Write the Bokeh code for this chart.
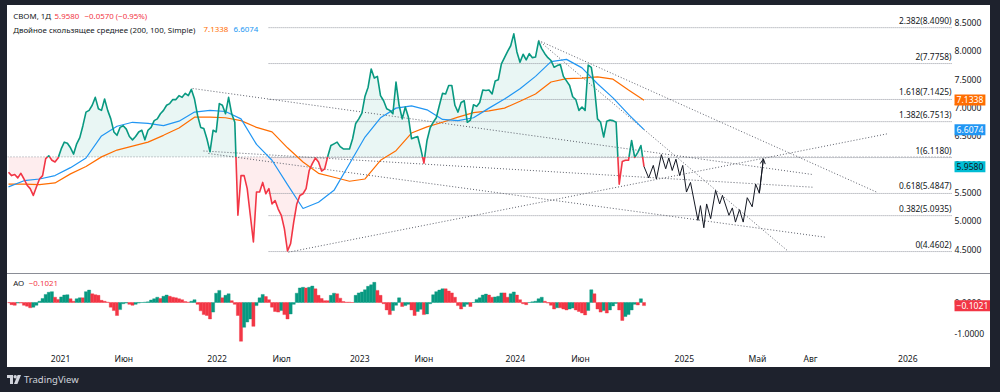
import numpy as np
from bokeh.plotting import figure
from bokeh.models import (Range1d, FixedTicker, NumeralTickFormatter, Label, Div, Arrow,
                          OpenHead, ColumnDataSource)
from bokeh.layouts import column, row
from bokeh.embed import file_html
from bokeh.resources import INLINE
from bokeh.core.properties import value

FONT = "Noto Sans"
TXT = "#131722"
GREEN = "#089981"
RED = "#f23645"
ORANGE = "#ff6d00"
BLUE = "#2196f3"
CYAN = "#00bcd4"
DARK = "#1e222d"

# ---------------- data (x = week index from the first bar) ----------------
weeks = list(range(206))
close = [5.86, 5.80, 5.82, 5.76, 5.84, 5.74, 5.63, 5.57, 5.45, 5.60,
         5.74, 5.80, 6.10, 6.15, 6.07, 6.04, 6.11, 6.27, 6.39, 6.37,
         6.29, 6.18, 6.36, 6.47, 6.68, 6.92, 6.95, 7.04, 7.18, 6.98,
         6.95, 7.15, 6.95, 6.80, 6.57, 6.51, 6.65, 6.68, 6.62, 6.49,
         6.43, 6.49, 6.57, 6.60, 6.43, 6.60, 6.65, 6.77, 6.80, 6.89,
         6.95, 7.04, 7.07, 7.14, 7.14, 7.21, 7.18, 7.25, 7.21, 7.32,
         7.15, 6.86, 6.65, 6.63, 6.45, 6.22, 6.60, 6.57, 7.07, 7.04,
         6.89, 7.18, 6.89, 6.74, 5.10, 5.80, 5.80, 5.57, 5.10, 4.63,
         5.51, 5.51, 5.68, 5.48, 5.57, 5.30, 5.36, 5.21, 5.10, 4.86,
         4.47, 4.60, 4.98, 5.30, 5.45, 5.48, 5.57, 5.89, 6.01, 6.11,
         6.04, 5.88, 5.92, 6.14, 6.33, 6.36, 6.39, 6.31, 6.27, 6.27,
         6.27, 6.45, 6.72, 6.80, 6.90, 7.20, 7.36, 7.68, 7.52, 7.55,
         7.21, 7.12, 6.98, 6.95, 6.89, 7.45, 7.04, 6.80, 7.01, 6.83,
         6.45, 6.47, 6.49, 6.27, 6.02, 6.42, 6.64, 6.74, 6.82, 7.04,
         7.25, 7.24, 7.39, 7.39, 7.04, 6.92, 7.09, 7.12, 6.74, 6.78,
         7.05, 7.02, 7.09, 7.31, 7.30, 7.31, 7.24, 7.47, 7.49, 7.77,
         7.88, 7.99, 8.09, 8.30, 7.98, 7.80, 7.94, 7.84, 7.95, 7.88,
         7.89, 8.17, 8.04, 7.95, 7.88, 7.83, 7.71, 7.74, 7.76, 7.55,
         7.47, 7.39, 7.19, 7.14, 6.95, 7.01, 6.95, 7.75, 7.71, 7.36,
         6.80, 6.74, 6.48, 6.76, 6.78, 6.77, 6.74, 5.65, 6.05, 6.07,
         6.07, 6.42, 6.12, 6.21, 6.33, 5.96]
base_level = 6.13

ma_weeks = list(range(0, 206, 5))
sma200 = [5.65, 5.65, 5.64, 5.67, 5.83, 5.96, 6.13, 6.25, 6.32, 6.39,
          6.51, 6.64, 6.83, 6.83, 6.82, 6.77, 6.65, 6.57, 6.29, 6.04,
          5.84, 5.77, 5.70, 5.74, 6.07, 6.24, 6.55, 6.66, 6.74, 6.83,
          6.91, 6.94, 6.99, 7.11, 7.24, 7.45, 7.51, 7.52, 7.54, 7.50,
          7.31, 7.13]
sma100 = [5.60, 5.71, 5.74, 5.80, 5.94, 6.11, 6.50, 6.67, 6.74, 6.72,
          6.68, 6.76, 6.92, 6.95, 6.93, 6.80, 6.35, 6.07, 5.64, 5.22,
          5.33, 5.54, 6.01, 6.48, 6.82, 6.99, 7.03, 6.96, 6.79, 6.77,
          6.82, 6.99, 7.15, 7.33, 7.55, 7.81, 7.85, 7.70, 7.42, 7.17,
          6.88, 6.61]

ao = [-0.01, -0.07, -0.09, -0.02, -0.02, -0.09, -0.12, -0.17, -0.15, -0.09,
      0.04, 0.13, 0.26, 0.33, 0.35, 0.17, 0.10, 0.18, 0.24, 0.25,
      0.12, 0.04, 0.12, 0.15, 0.15, 0.35, 0.40, 0.28, 0.25, 0.23,
      0.07, 0.04, 0.01, -0.15, -0.26, -0.42, -0.23, -0.04, -0.02, -0.06,
      -0.09, -0.06, -0.02, 0.00, 0.01, 0.02, 0.08, 0.12, 0.17, 0.13,
      0.20, 0.24, 0.20, 0.17, 0.15, 0.12, 0.09, 0.03, 0.01, 0.04,
      0.09, -0.06, -0.27, -0.39, -0.42, -0.53, -0.31, 0.30, 0.39, 0.15,
      0.23, 0.28, 0.06, -0.06, -0.42, -1.25, -0.80, -0.63, -0.53, -0.77,
      -0.10, 0.15, 0.26, 0.19, 0.09, -0.15, -0.29, -0.31, -0.26, -0.39,
      -0.53, -0.37, -0.06, 0.30, 0.47, 0.49, 0.47, 0.49, 0.53, 0.44,
      0.23, 0.13, 0.06, 0.06, 0.23, 0.30, 0.28, 0.14, 0.03, 0.01,
      0.01, 0.00, 0.23, 0.31, 0.34, 0.41, 0.52, 0.57, 0.65, 0.39,
      0.23, -0.04, -0.24, -0.39, -0.26, -0.09, 0.15, -0.13, -0.10, -0.06,
      -0.24, -0.42, -0.29, -0.22, -0.39, -0.37, -0.04, 0.25, 0.35, 0.40,
      0.44, 0.44, 0.37, 0.31, 0.17, -0.10, -0.21, -0.13, -0.06, -0.13,
      0.00, 0.10, 0.15, 0.24, 0.27, 0.24, 0.17, 0.18, 0.20, 0.31,
      0.31, 0.17, 0.28, 0.34, 0.24, 0.09, -0.04, -0.07, 0.00, 0.02,
      0.04, 0.12, 0.17, 0.04, -0.02, -0.09, -0.21, -0.17, -0.17, -0.21,
      -0.24, -0.21, -0.18, -0.24, -0.29, -0.34, -0.40, -0.26, 0.41, 0.28,
      -0.21, -0.31, -0.26, -0.34, -0.24, -0.11, -0.03, -0.24, -0.58, -0.45,
      -0.39, -0.24, -0.06, -0.08, 0.12, -0.10]

proj_weeks = [205.0, 206.5, 208.0, 209.0, 210.6, 212.0, 213.0, 214.1, 215.3, 216.5,
              217.5, 218.7, 220.0, 222.4, 223.2, 224.3, 225.2, 226.5, 228.1, 229.4,
              230.3, 232.4, 233.5, 234.5, 235.8, 237.0, 238.3, 239.9, 241.0, 242.2,
              243.5]
proj_price = [5.96, 5.76, 5.98, 5.74, 6.17, 5.92, 6.11, 5.89, 6.09, 5.80,
              5.98, 5.51, 5.68, 5.01, 5.27, 4.88, 5.30, 5.04, 5.54, 5.30,
              5.45, 5.10, 5.23, 4.98, 5.20, 4.98, 5.41, 5.25, 5.65, 5.49,
              6.095]

fib_ratio = [0, 0.382, 0.618, 1, 1.382, 1.618, 2, 2.382]
fib_price = [4.4602, 5.0935, 5.4847, 6.1180, 6.7513, 7.1425, 7.7758, 8.4090]
fib_start_week = 83.9

trend_w0 = [59.4, 62.9, 64.5, 90.3, 171.0, 171.0]
trend_p0 = [7.336, 6.234, 6.190, 4.449, 8.183, 8.183]
trend_w1 = [259.4, 259.4, 263.5, 283.5, 251.6, 280.3]
trend_p1 = [5.819, 5.595, 4.713, 6.537, 4.461, 5.502]

tick_weeks = [16.8, 37.2, 67.3, 88.1, 113.3, 134.0, 163.5, 184.5, 218.0, 241.6, 258.7, 290.1]
tick_labels = ["2021", "Июн", "2022", "Июл", "2023", "Июн", "2024", "Июн", "2025", "Май", "Авг", "2026"]

price_ticks = [4.5, 5.0, 5.5, 6.0, 6.5, 7.0, 7.5, 8.0, 8.5]
ao_ticks = [-1.0, 0.0]
last_close = 5.9580
last_sma200 = 7.1338
last_sma100 = 6.6074
last_ao = -0.1021

X_START = -0.323     # left edge of the pane
PANE_END = 304.52    # where the price pane ends / price scale begins
X_END = 316.77       # right edge of the white area
W = 983


def style_price_axis(ax, ticks):
    ax.ticker = FixedTicker(ticks=ticks)
    ax.formatter = NumeralTickFormatter(format="0.0000")
    ax.axis_line_color = None
    ax.major_tick_line_color = None
    ax.minor_tick_line_color = None
    ax.major_tick_out = 0
    ax.major_tick_in = 0
    ax.major_label_standoff = -36
    ax.major_label_text_font = FONT
    ax.major_label_text_font_size = "8.6px"
    ax.major_label_text_color = TXT


def lab(fig, x, y, text, color, size="7.9px"):
    fig.add_layout(Label(x=x, y=y, x_units="screen", y_units="data", text=text,
                         text_color=color, text_font=FONT, text_font_size=size,
                         text_baseline="middle", text_align="left"))


def marker(fig, y, text, bg, fg):
    fig.add_layout(Label(x=PANE_END, y=y, x_units="data", y_units="data", text=text,
                         x_offset=2, text_color=fg, text_font=FONT, text_font_size="8.6px",
                         text_baseline="middle", text_align="left",
                         background_fill_color=bg, padding=2))


# ---------------- main pane ----------------
p = figure(width=W, height=268, x_range=Range1d(X_START, X_END), y_range=Range1d(4.0732, 8.7998),
           x_axis_location=None, y_axis_location="right", toolbar_location=None,
           output_backend="svg", min_border_left=0, min_border_right=0,
           min_border_top=0, min_border_bottom=0, margin=0)
p.outline_line_color = None
p.grid.visible = False
p.border_fill_color = "white"
style_price_axis(p.yaxis[0], price_ticks)

# baseline split (crossing points so fills and colours meet on the base level)
xs, ys = [], []
for i, (w, c) in enumerate(zip(weeks, close)):
    if i > 0:
        a0 = close[i - 1] - base_level
        b0 = c - base_level
        if a0 * b0 < 0:
            t = a0 / (a0 - b0)
            xs.append(weeks[i - 1] + t * (w - weeks[i - 1]))
            ys.append(base_level)
    xs.append(w)
    ys.append(c)
xs = np.array(xs, dtype=float)
ys = np.array(ys, dtype=float)

p.varea(x=xs, y1=base_level, y2=np.maximum(ys, base_level), fill_color=GREEN, fill_alpha=0.09)
p.varea(x=xs, y1=np.minimum(ys, base_level), y2=base_level, fill_color=RED, fill_alpha=0.09)

# base level line
p.segment(x0=X_START, y0=base_level, x1=PANE_END, y1=base_level,
          line_color="#9598a1", line_dash="1 2", line_width=1)

# fib levels
p.segment(x0=fib_start_week, y0=fib_price, x1=PANE_END, y1=fib_price,
          line_color="#9598a1", line_dash="1 1", line_width=1)
fib_text = [f"{r:g}({v:.4f})" for r, v in zip(fib_ratio, fib_price)]
p.text(x=PANE_END, y=fib_price, text=fib_text, text_align="right", text_baseline="bottom",
       x_offset=-1, y_offset=-2, text_font=value(FONT), text_font_size="8.4px", text_color=TXT)

# trend lines
p.segment(x0=trend_w0, y0=trend_p0, x1=trend_w1, y1=trend_p1,
          line_color="#5d606b", line_dash="1 2", line_width=1)

# moving averages
p.line(ma_weeks, sma200, line_color=ORANGE, line_width=1.2)
p.line(ma_weeks, sma100, line_color=BLUE, line_width=1.2)

# price line, coloured by side of base level
runs_x, runs_y, runs_c = [], [], []
cur_x, cur_y = [xs[0]], [ys[0]]
cur_up = None
for i in range(1, len(xs)):
    up = (ys[i - 1] + ys[i]) / 2 >= base_level
    if cur_up is None:
        cur_up = up
    if up != cur_up:
        runs_x.append(cur_x); runs_y.append(cur_y); runs_c.append(GREEN if cur_up else RED)
        cur_x, cur_y = [xs[i - 1]], [ys[i - 1]]
        cur_up = up
    cur_x.append(xs[i]); cur_y.append(ys[i])
runs_x.append(cur_x); runs_y.append(cur_y); runs_c.append(GREEN if cur_up else RED)
p.multi_line(xs=runs_x, ys=runs_y, line_color=runs_c, line_width=1.6, line_join="round")

# projection
p.line(proj_weeks, proj_price, line_color=TXT, line_width=1)
p.add_layout(Arrow(end=OpenHead(size=5, line_width=1, line_color=TXT),
                   x_start=proj_weeks[-2], y_start=proj_price[-2],
                   x_end=proj_weeks[-1], y_end=proj_price[-1],
                   line_color=TXT, line_width=1))

# legend texts
lab(p, 5.7, 8.606, "CBOM, 1Д", TXT)
lab(p, 47, 8.606, f"{last_close:.4f}", RED)
lab(p, 77, 8.606, "−0.0570 (−0.95%)", RED)
lab(p, 5.7, 8.371, "Двойное скользящее среднее (200, 100, Simple)", TXT)
lab(p, 196, 8.371, f"{last_sma200:.4f}", ORANGE)
lab(p, 226, 8.371, f"{last_sma100:.4f}", BLUE)

marker(p, last_sma200, f"{last_sma200:.4f}", ORANGE, "white")
marker(p, last_sma100, f"{last_sma100:.4f}", BLUE, "white")
marker(p, last_close, f"{last_close:.4f}", CYAN, TXT)

# ---------------- AO pane ----------------
q = figure(width=W, height=93, x_range=p.x_range, y_range=Range1d(-1.484, 0.903),
           y_axis_location="right", toolbar_location=None, output_backend="svg",
           min_border_left=0, min_border_right=0, min_border_top=0, min_border_bottom=19,
           margin=0)
q.outline_line_color = None
q.grid.visible = False
q.border_fill_color = "white"

ao_col = [GREEN if (i > 0 and ao[i] > ao[i - 1]) else RED for i in range(len(ao))]
src = ColumnDataSource(dict(x=weeks, top=ao, c=ao_col))
q.vbar(x="x", top="top", bottom=0, width=1.0, fill_color="c", line_color="c",
       line_width=0.4, source=src)
style_price_axis(q.yaxis[0], ao_ticks)

qx = q.xaxis[0]
qx.ticker = FixedTicker(ticks=tick_weeks)
qx.major_label_overrides = {t: s for t, s in zip(tick_weeks, tick_labels)}
qx.axis_line_color = None
qx.major_tick_line_color = None
qx.minor_tick_line_color = None
qx.major_tick_out = 0
qx.major_label_standoff = 4
qx.major_label_text_font = FONT
qx.major_label_text_font_size = "8.6px"
qx.major_label_text_color = TXT

lab(q, 5.7, 0.613, "AO", TXT)
lab(q, 21.3, 0.613, f"{last_ao:.4f}".replace("-", "−"), RED)
marker(q, last_ao, f"{last_ao:.4f}".replace("-", "−"), RED, "white")

# ---------------- frame / separators / footer ----------------
sep = Div(text="", width=W, height=1, margin=0, styles={"background-color": "#8a8d96"})
top = Div(text="", width=1000, height=5, margin=0, styles={"background-color": DARK})
left = Div(text="", width=7, height=362, margin=0, styles={"background-color": DARK})
right = Div(text="", width=10, height=362, margin=0, styles={"background-color": DARK})
logo = ('<div style="height:25px;display:flex;align-items:center;gap:3px;padding-left:7px;'
        'font-family:\'Noto Sans\';font-size:9.5px;color:#d1d4dc;">'
        '<svg width="14" height="9" viewBox="0 0 14 9">'
        '<path d="M0 0H6V9H3V3H0Z" fill="#d1d4dc"/>'
        '<circle cx="8.2" cy="1.7" r="1.7" fill="#d1d4dc"/>'
        '<path d="M10.6 0H14L10.4 9H7Z" fill="#d1d4dc"/></svg>'
        '<span>TradingView</span></div>')
foot = Div(text=logo, width=1000, height=25, margin=0, styles={"background-color": DARK})

inner = column(p, sep, q, spacing=0, margin=0)
layout = column(top, row(left, inner, right, spacing=0, margin=0), foot, spacing=0, margin=0)
open("out.html", "w").write(file_html(layout, INLINE))
